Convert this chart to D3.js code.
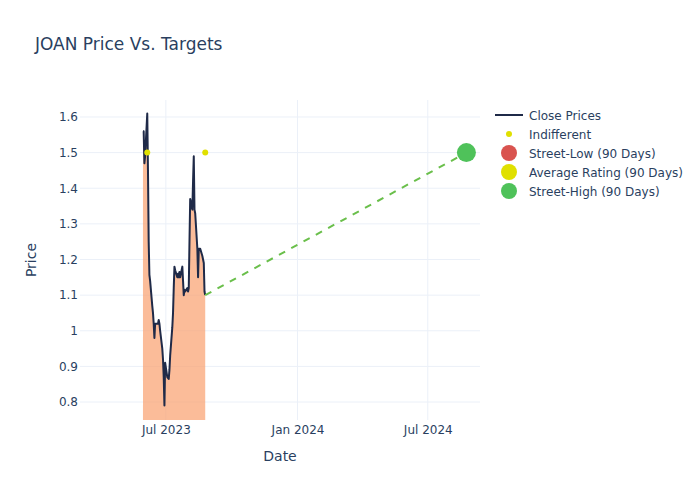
<!DOCTYPE html>
<html>
<head>
<meta charset="utf-8">
<script src="https://cdn.jsdelivr.net/npm/d3@7"></script>
<style>
  body { margin: 0; background: #fff; }
  svg { font-family: "DejaVu Sans", sans-serif; }
</style>
</head>
<body>
<div id="chart"></div>
<script>
const closeDates = [
  "2023-05-30","2023-05-31","2023-06-01","2023-06-02","2023-06-05","2023-06-06","2023-06-07","2023-06-08","2023-06-09",
  "2023-06-12","2023-06-13","2023-06-14","2023-06-15","2023-06-16","2023-06-20","2023-06-21","2023-06-22","2023-06-23",
  "2023-06-26","2023-06-27","2023-06-28","2023-06-29","2023-06-30","2023-07-03","2023-07-05","2023-07-06","2023-07-07",
  "2023-07-10","2023-07-11","2023-07-12","2023-07-13","2023-07-14","2023-07-17","2023-07-18","2023-07-19","2023-07-20",
  "2023-07-21","2023-07-24","2023-07-25","2023-07-26","2023-07-27","2023-07-28","2023-07-31","2023-08-01","2023-08-02",
  "2023-08-03","2023-08-04","2023-08-07","2023-08-08","2023-08-09","2023-08-10","2023-08-11","2023-08-14","2023-08-15",
  "2023-08-16","2023-08-17","2023-08-18","2023-08-21","2023-08-22","2023-08-23","2023-08-24","2023-08-25"
];
const closePrices = [
  1.56,1.56,1.47,1.49,1.61,1.45,1.25,1.157,1.14,
  1.07,1.05,1.02,0.98,1.02,1.02,1.03,1.02,1.00,
  0.95,0.92,0.87,0.79,0.91,0.87,0.865,0.89,0.93,
  1.01,1.05,1.12,1.18,1.17,1.15,1.16,1.15,1.165,
  1.15,1.18,1.14,1.10,1.115,1.11,1.12,1.11,1.12,
  1.25,1.37,1.34,1.42,1.49,1.34,1.33,1.23,1.15,
  1.23,1.23,1.23,1.21,1.20,1.19,1.11,1.10
];
const indifferentDates = ["2023-06-05","2023-08-25"];
const indifferentValues = [1.5, 1.5];
const targetDates = ["2023-08-25","2024-08-24"];
const targetValues = [1.10, 1.50];
const streetHighDate = "2024-08-24";
const streetHighValue = 1.50;
const yTicks = [0.8,0.9,1,1.1,1.2,1.3,1.4,1.5,1.6];
const xTicks = ["2023-07-01","2024-01-01","2024-07-01"];
const xTickLabels = ["Jul 2023","Jan 2024","Jul 2024"];
const legendLabels = ["Close Prices","Indifferent","Street-Low (90 Days)","Average Rating (90 Days)","Street-High (90 Days)"];

const W = 700, H = 500;
const m = {l: 80, r: 220, t: 100, b: 80};
const pw = W - m.l - m.r, ph = H - m.t - m.b;
const parse = d3.utcParse("%Y-%m-%d");
const textColor = "#2a3f5f";

const svg = d3.select("#chart").append("svg").attr("width", W).attr("height", H);

const x = d3.scaleUtc().domain([parse("2023-03-03"), parse("2024-09-12")]).range([m.l, m.l + pw]);
const y = d3.scaleLinear().domain([0.7495, 1.6477]).range([m.t + ph, m.t]);

svg.append("defs").append("clipPath").attr("id", "clip")
  .append("rect").attr("x", m.l).attr("y", m.t).attr("width", pw).attr("height", ph);

// grid
const grid = svg.append("g");
grid.selectAll(".yg").data(yTicks).enter().append("line")
  .attr("x1", m.l).attr("x2", m.l + pw).attr("y1", d => y(d)).attr("y2", d => y(d))
  .attr("stroke", "#ebf0f8").attr("stroke-width", 1);
grid.selectAll(".xg").data(xTicks).enter().append("line")
  .attr("x1", d => x(parse(d))).attr("x2", d => x(parse(d))).attr("y1", m.t).attr("y2", m.t + ph)
  .attr("stroke", "#ebf0f8").attr("stroke-width", 1);

// axes
const yAxis = d3.axisLeft(y).tickValues(yTicks).tickSize(0).tickPadding(2).tickFormat(d => d3.format("")(d));
const gy = svg.append("g").attr("transform", `translate(${m.l},0)`).call(yAxis);
gy.select(".domain").remove();
gy.selectAll("text").attr("fill", textColor).attr("font-size", 12).attr("font-family", "DejaVu Sans, sans-serif");

const xAxis = d3.axisBottom(x).tickValues(xTicks.map(parse)).tickSize(0).tickPadding(5)
  .tickFormat((d, i) => xTickLabels[i]);
const gx = svg.append("g").attr("transform", `translate(0,${m.t + ph})`).call(xAxis);
gx.select(".domain").remove();
gx.selectAll("text").attr("fill", textColor).attr("font-size", 12).attr("font-family", "DejaVu Sans, sans-serif");

const plot = svg.append("g").attr("clip-path", "url(#clip)");
const series = closeDates.map((d, i) => ({date: parse(d), v: closePrices[i]}));

plot.append("path").datum(series)
  .attr("d", d3.area().x(d => x(d.date)).y0(y(0)).y1(d => y(d.v)))
  .attr("fill", "rgba(250,160,110,0.7)");
plot.append("path").datum(series)
  .attr("d", d3.line().x(d => x(d.date)).y(d => y(d.v)))
  .attr("fill", "none").attr("stroke", "#1f2a48").attr("stroke-width", 2).attr("stroke-linejoin", "round");

const tgt = targetDates.map((d, i) => ({date: parse(d), v: targetValues[i]}));
plot.append("path").datum(tgt)
  .attr("d", d3.line().x(d => x(d.date)).y(d => y(d.v)))
  .attr("fill", "none").attr("stroke", "#6abf4b").attr("stroke-width", 2).attr("stroke-dasharray", "7,7");

plot.selectAll(".ind").data(indifferentDates).enter().append("circle")
  .attr("cx", d => x(parse(d))).attr("cy", (d, i) => y(indifferentValues[i])).attr("r", 3)
  .attr("fill", "#e0e000");

plot.append("circle").attr("cx", x(parse(streetHighDate))).attr("cy", y(streetHighValue)).attr("r", 9.5)
  .attr("fill", "#4fc25a");

// title
svg.append("text").attr("x", 35).attr("y", 50).text("JOAN Price Vs. Targets")
  .attr("fill", textColor).attr("font-size", 17);

// axis titles
svg.append("text").attr("x", m.l + pw / 2).attr("y", 461).attr("text-anchor", "middle")
  .text("Date").attr("fill", textColor).attr("font-size", 14);
svg.append("text").attr("transform", `translate(36,${m.t + ph / 2}) rotate(-90)`).attr("text-anchor", "middle")
  .text("Price").attr("fill", textColor).attr("font-size", 14);

// legend
const lg = svg.append("g").attr("transform", "translate(495,115)");
const rowH = 19;
legendLabels.forEach((lab, i) => {
  const g = lg.append("g").attr("transform", `translate(0,${i * rowH})`);
  if (i === 0) {
    g.append("line").attr("x1", 0).attr("x2", 28).attr("y1", 0).attr("y2", 0)
      .attr("stroke", "#1f2a48").attr("stroke-width", 2);
  } else if (i === 1) {
    g.append("circle").attr("cx", 14).attr("cy", 0).attr("r", 3).attr("fill", "#e0e000");
  } else {
    const c = ["#d9534f", "#e0e000", "#4fc25a"][i - 2];
    g.append("circle").attr("cx", 14).attr("cy", 0).attr("r", 8).attr("fill", c);
  }
  g.append("text").attr("x", 34).attr("y", 4.5).text(lab).attr("fill", textColor).attr("font-size", 12);
});
</script>
</body>
</html>
